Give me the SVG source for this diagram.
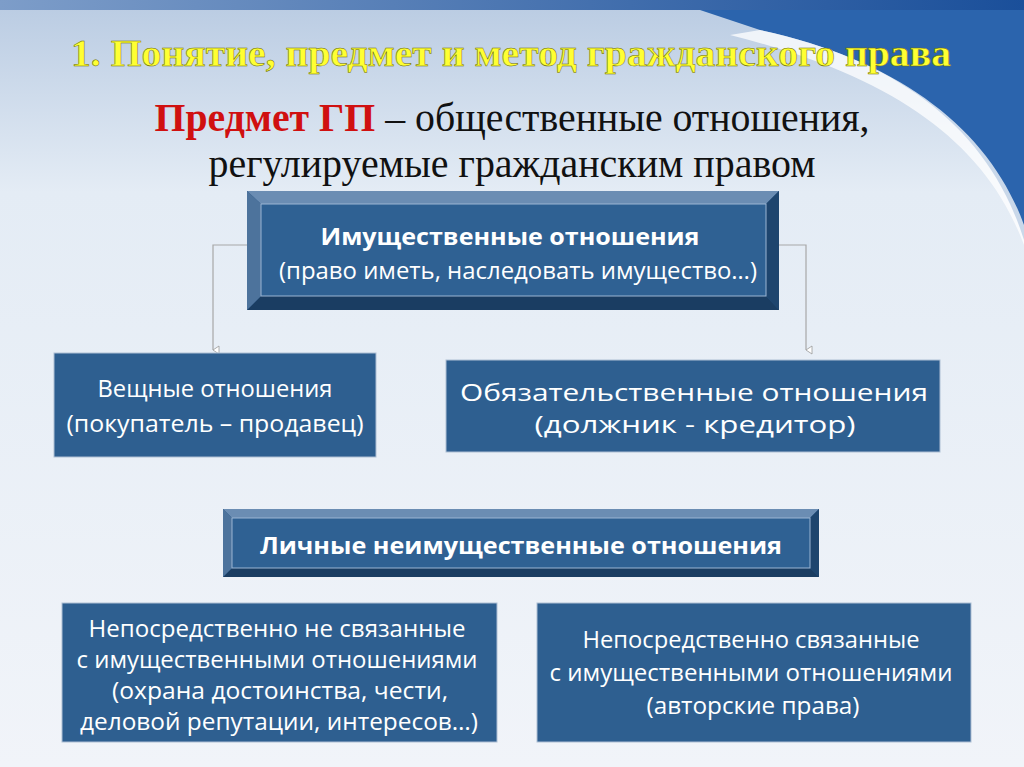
<svg xmlns="http://www.w3.org/2000/svg" width="1024" height="767" viewBox="0 0 1024 767">
<defs>
<linearGradient id="bg" x1="0" y1="0" x2="0" y2="1"><stop offset="0" stop-color="#b9cbe2"/><stop offset="0.25" stop-color="#e4ecf5"/><stop offset="1" stop-color="#f1f4f9"/></linearGradient>
<linearGradient id="band" x1="0" y1="0" x2="1" y2="0"><stop offset="0" stop-color="#7d9dc9"/><stop offset="1" stop-color="#1a4f9a"/></linearGradient>
<marker id="ar" markerWidth="10" markerHeight="8" refX="5" refY="7" orient="auto" markerUnits="userSpaceOnUse"><path d="M1,1 L5,7 L9,1 Z" fill="#fff" stroke="#999" stroke-width="0.8"/></marker>
<style>
.box{fill:#2e5f90;stroke:#aebfd4;stroke-width:1}
.ttl{font-family:"Liberation Serif",serif;font-weight:bold;font-size:38px;fill:#ffff33;stroke:#6a6a00;stroke-width:0.5}
.sub{font-family:"Liberation Serif",serif;font-size:40px;fill:#111}
.w{font-family:"Open Sans","Noto Sans",sans-serif;font-size:24px;fill:#fff;text-anchor:middle}
.b{font-weight:bold}
.conn{fill:none;stroke:#a7a7a7;stroke-width:1.2}
</style>
</defs>
<rect width="1024" height="767" fill="url(#bg)"/>
<path d="M0,0 H1024 V10 H0 Z" fill="url(#band)"/>
<path d="M700,10 H1024 V240 C990,130 900,60 760,30 Z" fill="#2b64ad"/>
<path d="M760,30 C900,60 990,130 1024,225 V245 C985,140 890,75 730,35 Z" fill="#ffffff" opacity="0.75"/>
<text x="511" y="66" text-anchor="middle" class="ttl" textLength="880" lengthAdjust="spacingAndGlyphs">1. Понятие, предмет и метод гражданского права</text>
<text x="512" y="131" text-anchor="middle" class="sub" textLength="715" lengthAdjust="spacingAndGlyphs"><tspan fill="#d01010" font-weight="bold">Предмет ГП</tspan> – общественные отношения,</text>
<text x="512" y="177" text-anchor="middle" class="sub" textLength="607" lengthAdjust="spacingAndGlyphs">регулируемые гражданским правом</text>
<g id="connectors">
<path class="conn" d="M247,245 H213 V350" marker-end="url(#ar)"/>
<path class="conn" d="M779,245 H806 V350" marker-end="url(#ar)"/>
</g>
<g id="n1">
<rect x="247" y="191" width="532" height="119" fill="#24507e"/>
<path d="M247,191 H779 L766,204 H261 Z" fill="#6b8db3"/>
<path d="M247,310 H779 L766,296 H261 Z" fill="#1a3d62"/>
<path d="M247,191 L261,204 V296 L247,310 Z" fill="#4d739c"/>
<path d="M779,191 L766,204 V296 L779,310 Z" fill="#1e456e"/>
<rect x="261" y="204" width="505" height="92" fill="#2f6193" stroke="#9bb6d3"/>
<text x="510" y="245" class="w b" textLength="379" lengthAdjust="spacingAndGlyphs">Имущественные отношения</text>
<text x="518" y="279" class="w" textLength="478" lengthAdjust="spacingAndGlyphs">(право иметь, наследовать имущество…)</text>
</g>
<g id="n2">
<rect x="54" y="353" width="322" height="104" class="box"/>
<text x="215" y="397" class="w" textLength="235" lengthAdjust="spacingAndGlyphs">Вещные отношения</text>
<text x="215" y="432" class="w" textLength="297" lengthAdjust="spacingAndGlyphs">(покупатель – продавец)</text>
</g>
<g id="n3">
<rect x="446" y="360" width="494" height="92" class="box"/>
<text x="694" y="401" class="w" textLength="468" lengthAdjust="spacingAndGlyphs">Обязательственные отношения</text>
<text x="695" y="433" class="w" textLength="321" lengthAdjust="spacingAndGlyphs">(должник - кредитор)</text>
</g>
<g id="n4">
<rect x="223" y="509" width="596" height="68" fill="#24507e"/>
<path d="M223,509 H819 L810,518 H232 Z" fill="#6b8db3"/>
<path d="M223,577 H819 L810,568 H232 Z" fill="#1a3d62"/>
<path d="M223,509 L232,518 V568 L223,577 Z" fill="#4d739c"/>
<path d="M819,509 L810,518 V568 L819,577 Z" fill="#1e456e"/>
<rect x="232" y="518" width="578" height="50" fill="#2f6193" stroke="#9bb6d3"/>
<text x="521" y="554" class="w b" textLength="522" lengthAdjust="spacingAndGlyphs">Личные неимущественные отношения</text>
</g>
<g id="n5">
<rect x="62" y="603" width="435" height="139" class="box"/>
<text x="277" y="637" class="w" textLength="377" lengthAdjust="spacingAndGlyphs">Непосредственно не связанные</text>
<text x="277" y="668" class="w" textLength="401" lengthAdjust="spacingAndGlyphs">с имущественными отношениями</text>
<text x="280" y="699" class="w" textLength="336" lengthAdjust="spacingAndGlyphs">(охрана достоинства, чести,</text>
<text x="279" y="730" class="w" textLength="398" lengthAdjust="spacingAndGlyphs">деловой репутации, интересов…)</text>
</g>
<g id="n6">
<rect x="537" y="603" width="434" height="139" class="box"/>
<text x="751" y="648" class="w" textLength="337" lengthAdjust="spacingAndGlyphs">Непосредственно связанные</text>
<text x="751" y="681" class="w" textLength="403" lengthAdjust="spacingAndGlyphs">с имущественными отношениями</text>
<text x="753" y="714" class="w" textLength="213" lengthAdjust="spacingAndGlyphs">(авторские права)</text>
</g>
</svg>
